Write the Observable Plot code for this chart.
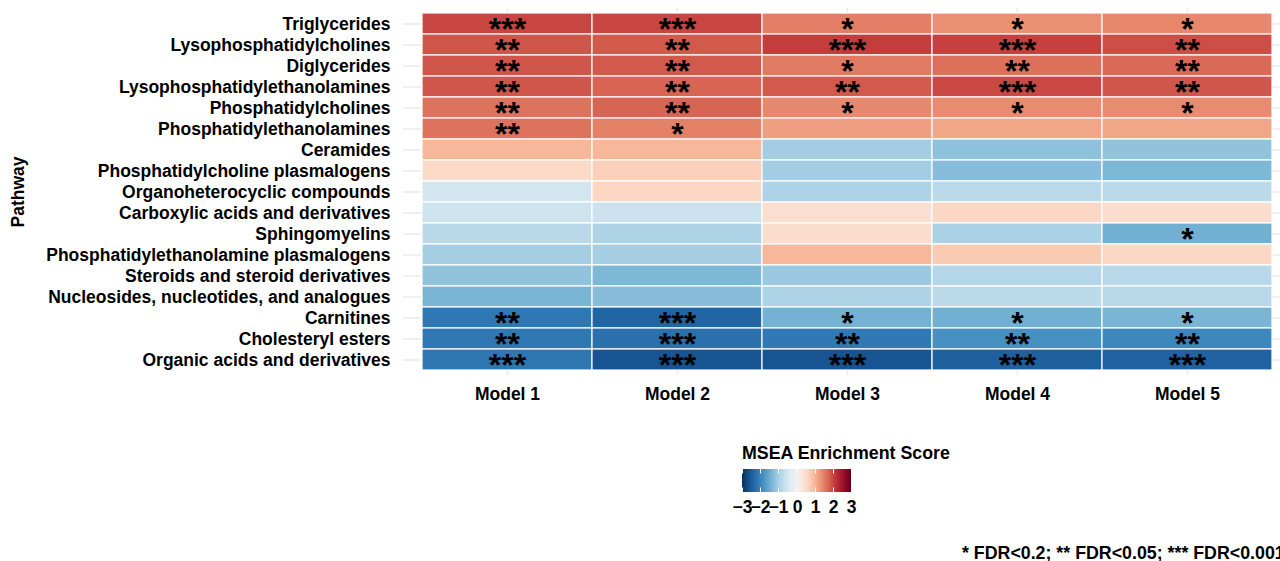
<!DOCTYPE html>
<html><head><meta charset="utf-8">
<script src="https://cdn.jsdelivr.net/npm/d3@7"></script>
<script src="https://cdn.jsdelivr.net/npm/@observablehq/plot@0.6"></script>
<style>
body{margin:0;background:#fff;font-family:"Liberation Sans",Arial,Helvetica,sans-serif;}
#wrap{position:relative;width:1280px;height:561px;overflow:hidden;background:#fff;}
#main{position:absolute;left:0;top:0;}
#legtitle{position:absolute;left:742px;top:443px;font-size:17.8px;font-weight:bold;white-space:nowrap;line-height:20px;color:#000;}
#leg{position:absolute;left:732px;top:469px;}
#leg .tick line{stroke:#fff;stroke-width:1;stroke-dasharray:4.5 14 4.5 40;}
#caption{position:absolute;left:962px;top:543px;font-size:17.8px;font-weight:bold;white-space:nowrap;line-height:20px;color:#000;}
</style></head>
<body><div id="wrap"><div id="main"></div><div id="legtitle"></div><div id="leg"></div><div id="caption"></div></div>
<script>
const models = ["Model 1", "Model 2", "Model 3", "Model 4", "Model 5"];
const pathways = [
  "Triglycerides", "Lysophosphatidylcholines", "Diglycerides", "Lysophosphatidylethanolamines",
  "Phosphatidylcholines", "Phosphatidylethanolamines", "Ceramides", "Phosphatidylcholine plasmalogens",
  "Organoheterocyclic compounds", "Carboxylic acids and derivatives", "Sphingomyelins",
  "Phosphatidylethanolamine plasmalogens", "Steroids and steroid derivatives",
  "Nucleosides, nucleotides, and analogues", "Carnitines", "Cholesteryl esters", "Organic acids and derivatives"
];
// MSEA enrichment scores, one array per model (pathway order as above)
const model1 = [2.02, 1.89, 1.89, 1.89, 1.63, 1.63, 0.99, 0.55, -0.52, -0.6, -0.82, -1.01, -1.19, -1.38, -2.16, -2.16, -2.17];
const model2 = [2.02, 1.85, 1.85, 1.75, 1.75, 1.50, 0.99, 0.69, 0.60, -0.62, -0.93, -1.00, -1.34, -1.27, -2.40, -2.26, -2.59];
const model3 = [1.53, 2.10, 1.57, 1.85, 1.44, 1.24, -1.03, -1.03, -0.92, 0.47, 0.50, 0.99, -1.09, -0.93, -1.43, -2.15, -2.59];
const model4 = [1.37, 2.07, 1.66, 2.00, 1.42, 1.17, -1.22, -1.27, -0.81, 0.58, -0.96, 0.76, -0.86, -0.80, -1.45, -1.85, -2.45];
const model5 = [1.45, 1.95, 1.71, 1.89, 1.42, 1.17, -1.19, -1.34, -0.80, 0.50, -1.45, 0.58, -0.83, -0.83, -1.38, -1.97, -2.42];
// significance stars
const stars1 = ["***", "**", "**", "**", "**", "**", "", "", "", "", "", "", "", "", "**", "**", "***"];
const stars2 = ["***", "**", "**", "**", "**", "*", "", "", "", "", "", "", "", "", "***", "***", "***"];
const stars3 = ["*", "***", "*", "**", "*", "", "", "", "", "", "", "", "", "", "*", "**", "***"];
const stars4 = ["*", "***", "**", "***", "*", "", "", "", "", "", "", "", "", "", "*", "**", "***"];
const stars5 = ["*", "**", "**", "**", "*", "", "", "", "", "", "*", "", "", "", "*", "**", "***"];
const legendTicks = [-3, -2, -1, 0, 1, 2, 3];
const legendTitle = "MSEA Enrichment Score";
const captionText = "* FDR<0.2; ** FDR<0.05; *** FDR<0.001";
const yTitle = "Pathway";

const values = [model1, model2, model3, model4, model5];
const starSets = [stars1, stars2, stars3, stars4, stars5];
const data = [];
pathways.forEach((p, i) => models.forEach((m, j) => data.push({pathway: p, model: m, value: values[j][i], stars: starSets[j][i]})));

const font = '"Liberation Sans", Arial, Helvetica, sans-serif';
const colorOpts = {type: "linear", domain: [-3, 3], interpolate: t => d3.interpolateRdBu(1 - t)};

const chart = Plot.plot({
  width: 1280, height: 420,
  marginLeft: 403, marginRight: 0, marginTop: 8, marginBottom: 45,
  x: {domain: models, padding: 0, insetLeft: 17, insetRight: 6, label: null},
  y: {domain: pathways, padding: 0, insetTop: 3.4, insetBottom: 4, label: null},
  color: colorOpts,
  style: {fontFamily: font, fontSize: "17.5px", fontWeight: "bold", color: "#000", background: "#fff"},
  marks: [
    Plot.gridY({stroke: "#ebebeb", strokeOpacity: 1, strokeWidth: 1.6}),
    Plot.gridX({stroke: "#ebebeb", strokeOpacity: 1, strokeWidth: 1.6}),
    Plot.cell(data, {x: "model", y: "pathway", fill: "value", stroke: "white", strokeWidth: 1.2}),
    Plot.text(data, {x: "model", y: "pathway", text: "stars", fontSize: 32, fontWeight: "bold", fill: "#000", lineAnchor: "bottom", dy: 16}),
    Plot.axisX({tickSize: 0, tickPadding: 12, label: null}),
    Plot.axisY({tickSize: 0, tickPadding: 13, label: yTitle, labelAnchor: "center", labelOffset: 392})
  ]
});
document.getElementById("main").appendChild(chart);

const leg = Plot.legend({
  color: colorOpts,
  width: 129, height: 53, marginLeft: 10, marginRight: 10, marginTop: 0, marginBottom: 30,
  ticks: legendTicks, tickSize: 6, label: null, tickFormat: d => d3.format("d")(d),
  style: {fontFamily: font, fontSize: "17.5px", fontWeight: "bold", color: "#000", background: "transparent"}
});
document.getElementById("leg").appendChild(leg);
document.getElementById("legtitle").textContent = legendTitle;
document.getElementById("caption").textContent = captionText;
</script>
</body></html>
